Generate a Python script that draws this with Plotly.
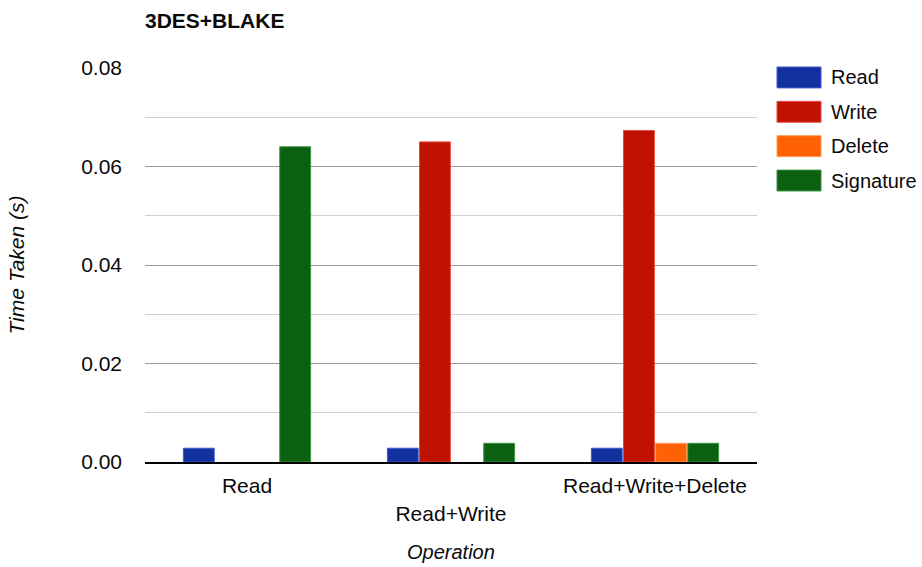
import plotly.graph_objects as go

# Operations measured and time taken (seconds) per step
categories = ["Read", "Read+Write", "Read+Write+Delete"]
tick_labels = ["Read", "<br>Read+Write", "Read+Write+Delete"]
series_names = ["Read", "Write", "Delete", "Signature"]
read_times = [0.0028, 0.0028, 0.0028]
write_times = [None, 0.065, 0.0673]
delete_times = [None, None, 0.0038]
signature_times = [0.064, 0.0038, 0.0038]

fills = ["#13309f", "#c01200", "#ff6105", "#0b6111"]
edges = ["#3c5ad2", "#e8493a", "#ff9a55", "#3a9240"]

FONT = "Arial, Liberation Sans, sans-serif"
INK = "#0a0a0a"

fig = go.Figure()
for name, vals, fc, ec in zip(series_names,
                              [read_times, write_times, delete_times, signature_times],
                              fills, edges):
    fig.add_trace(go.Bar(
        name=name, x=categories, y=vals,
        marker=dict(color=fc, line=dict(color=ec, width=1)),
        showlegend=False,
    ))

# Legend drawn as swatches + labels at the right of the plot
sw_x0, sw_x1, txt_x = 1.0327, 1.1046, 1.117
y_top, y_step, sw_h = 0.976, 0.0872, 0.0265
for i, (name, fc, ec) in enumerate(zip(series_names, fills, edges)):
    yc = y_top - i * y_step
    fig.add_shape(type="rect", xref="paper", yref="paper",
                  x0=sw_x0, x1=sw_x1, y0=yc - sw_h, y1=yc + sw_h,
                  fillcolor=fc, line=dict(color=ec, width=1))
    fig.add_annotation(xref="paper", yref="paper", x=txt_x, y=yc,
                       text=name, showarrow=False, xanchor="left", yanchor="middle",
                       font=dict(family=FONT, size=20, color=INK))

# x-axis title placed below the staggered category labels
fig.add_annotation(xref="paper", yref="paper", x=0.5, y=-0.228,
                   text="<i>Operation</i>", showarrow=False,
                   xanchor="center", yanchor="middle",
                   font=dict(family=FONT, size=20, color=INK))

fig.update_layout(
    width=922, height=567,
    margin=dict(l=145, r=165, t=68, b=105),
    paper_bgcolor="white", plot_bgcolor="white",
    barmode="group", bargap=0.37, bargroupgap=0.04,
    font=dict(family=FONT, size=21, color=INK),
    title=dict(text="<b>3DES+BLAKE</b>", x=145 / 922, xanchor="left", xref="container",
               y=1 - 21 / 567, yanchor="middle", yref="container",
               font=dict(family=FONT, size=21, color=INK)),
    showlegend=False,
)
fig.update_xaxes(
    tickvals=categories, ticktext=tick_labels, ticks="",
    showline=True, linecolor="black", linewidth=2,
    ticklabelstandoff=4, automargin=False,
    tickfont=dict(family=FONT, size=21, color=INK),
)
fig.update_yaxes(
    range=[0, 0.08], dtick=0.02, tickformat=".2f", ticks="",
    showgrid=True, gridcolor="#9a9a9a", gridwidth=1, zeroline=False,
    minor=dict(dtick=0.01, showgrid=True, gridcolor="#d0d0d0", gridwidth=1),
    ticklabelstandoff=22, automargin=False,
    title=dict(text="<i>Time Taken (s)</i>", font=dict(family=FONT, size=21, color=INK), standoff=50),
    tickfont=dict(family=FONT, size=21, color=INK),
)

fig.write_html("out.html")
